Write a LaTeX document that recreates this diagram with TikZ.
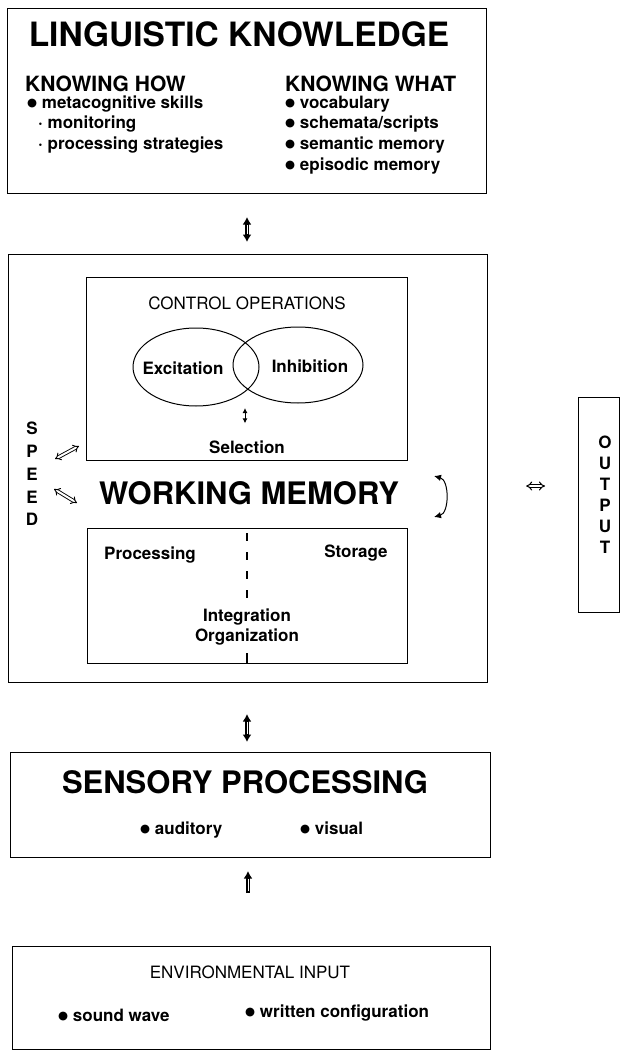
\documentclass[tikz,border=0pt]{standalone}
\usepackage{fontspec}
\setmainfont{TeX Gyre Heros}
\newfontfamily\dejavu{DejaVu Sans}
\newcommand{\bul}{\raisebox{1.8pt}{\dejavu\fontsize{11.5}{12}\selectfont ●}}
\usetikzlibrary{arrows.meta,shapes.geometric}
\begin{document}
\begin{tikzpicture}[x=1pt,y=-1pt,
  box/.style={draw, line width=1.1pt, inner sep=0, anchor=north west},
  big/.style={font=\bfseries\fontsize{31}{33}\selectfont, inner sep=0},
  head/.style={font=\bfseries\fontsize{21}{23}\selectfont, inner sep=0, anchor=west},
  item/.style={font=\bfseries\fontsize{17}{19}\selectfont, inner sep=0, anchor=west},
  lbl/.style={font=\bfseries\fontsize{17}{19}\selectfont, inner sep=0},
  plain/.style={font=\fontsize{17}{19}\selectfont, inner sep=0},
  oval/.style={draw, ellipse, line width=1pt, inner sep=0},
  fat/.style={line width=3.4pt},
  fatin/.style={white, line width=1pt},
  hollow/.style={double, double distance=2pt, line width=0.9pt, {Implies}-{Implies}},
  thin2/.style={line width=1pt, {Latex[length=5pt,width=5pt]}-{Latex[length=5pt,width=5pt]}},
  bigtip/.tip={Latex[length=7.5pt,width=9pt]}
]
\useasboundingbox (0,0) rectangle (620,1051);

% ---------------- Linguistic knowledge
\node[box, minimum width=479pt, minimum height=185pt] (lk) at (7,8) {};
\node[big, font=\bfseries\fontsize{33.5}{35}\selectfont] (lkt) at (239,34) {LINGUISTIC KNOWLEDGE};
\node[head] (kh) at (25,84) {KNOWING HOW};
\node[head] (kw) at (285,84) {KNOWING WHAT};
\node[item] (h1) at (27,104) {\bul\ metacognitive skills};
\node[item] (h2) at (38,124) {\textperiodcentered\ monitoring};
\node[item] (h3) at (38,145) {\textperiodcentered\ processing strategies};
\node[item] (w1) at (285,104) {\bul\ vocabulary};
\node[item] (w2) at (285,124) {\bul\ schemata/scripts};
\node[item] (w3) at (285,145) {\bul\ semantic memory};
\node[item] (w4) at (285,166) {\bul\ episodic memory};

% ---------------- Working memory
\node[box, minimum width=479pt, minimum height=428pt] (wm) at (8,254) {};
\node[box, line width=1pt, minimum width=321pt, minimum height=183pt] (co) at (86,277) {};
\node[plain] (cot) at (247,303) {CONTROL OPERATIONS};
\node[oval, minimum width=126pt, minimum height=78pt] (ex) at (196,367) {};
\node[oval, minimum width=130pt, minimum height=76pt] (in) at (298,365) {};
\node[lbl] (ext) at (183,368) {Excitation};
\node[lbl] (int) at (310,366) {Inhibition};
\node[lbl] (sel) at (247,447) {Selection};
\coordinate (xc) at (245,404);
\draw[thin2, shorten <=4pt, shorten >=17pt] (xc) -- (sel.north -| xc);

\node[big] (wmt) at (249,493) {WORKING MEMORY};
\node[font=\bfseries\fontsize{17}{22.7}\selectfont, inner sep=0, align=center] (speed) at (32,474) {S\\P\\E\\E\\D};
\coordinate (sa1) at (55,459);
\coordinate (sa2) at (79,446);
\coordinate (sb1) at (54,489);
\coordinate (sb2) at (77,503);
\draw[hollow] (sa1) -- (sa2);
\draw[hollow] (sb1) -- (sb2);

\node[box, line width=1pt, minimum width=320pt, minimum height=135pt] (pb) at (87,528) {};
\node[lbl] (proc) at (150,555) {Processing};
\node[lbl] (stor) at (356,553) {Storage};
\node[lbl] (integ) at (247,617) {Integration};
\node[lbl] (org) at (247,637) {Organization};
\draw[line width=1.2pt, dash pattern=on 8pt off 11pt, dash phase=-5pt] (pb.north -| integ) -- ([yshift=5pt]integ.north);
\draw[line width=1.2pt] ([yshift=-8pt]org.south) -- (pb.south -| org);

\coordinate (ca1) at (434,476);
\coordinate (ca2) at (434,517);
\draw[line width=1pt, {Latex[length=7pt,width=6.5pt]}-{Latex[length=7pt,width=6.5pt]}] (ca1) to[bend left=75] (ca2);

% ---------------- Output
\node[box, minimum width=41pt, minimum height=215pt] (out) at (578,397) {};
\node[font=\bfseries\fontsize{17}{21}\selectfont, inner sep=0, align=center] (outt) at (605,495) {O\\U\\T\\P\\U\\T};
\draw[double, double distance=2pt, line width=1pt, {Implies}-{Implies}, shorten <=38pt, shorten >=33pt] (wm.east |- 0,486) -- (out.west |- 0,486);

% ---------------- Sensory processing
\node[box, minimum width=480pt, minimum height=105pt] (sp) at (10,752) {};
\node[big] (spt) at (245,782) {SENSORY PROCESSING};
\node[item] (s1) at (140,830) {\bul\ auditory};
\node[item] (s2) at (300,828) {\bul\ visual};

% ---------------- Environmental input
\node[box, minimum width=478pt, minimum height=103pt] (env) at (12,946) {};
\node[plain] (envt) at (250,972) {ENVIRONMENTAL INPUT};
\node[item] (e1) at (58,1015) {\bul\ sound wave};
\node[item] (e2) at (245,1013) {\bul\ written configuration};

% ---------------- vertical arrows
\draw[fat, {bigtip}-{bigtip}, shorten <=23pt, shorten >=12pt] (lk.south -| 247,0) -- (wm.north -| 247,0);
\draw[fatin, shorten <=31pt, shorten >=20pt] (lk.south -| 247,0) -- (wm.north -| 247,0);
\draw[fat, {bigtip}-{bigtip}, shorten <=31pt, shorten >=10pt] (wm.south -| 247,0) -- (sp.north -| 247,0);
\draw[fatin, shorten <=39pt, shorten >=18pt] (wm.south -| 247,0) -- (sp.north -| 247,0);
\draw[fat, -{bigtip}, shorten <=53pt, shorten >=13pt] (env.north -| 248,0) -- (sp.south -| 248,0);
\draw[fatin, shorten <=55pt, shorten >=21pt] (env.north -| 248,0) -- (sp.south -| 248,0);
\end{tikzpicture}
\end{document}
